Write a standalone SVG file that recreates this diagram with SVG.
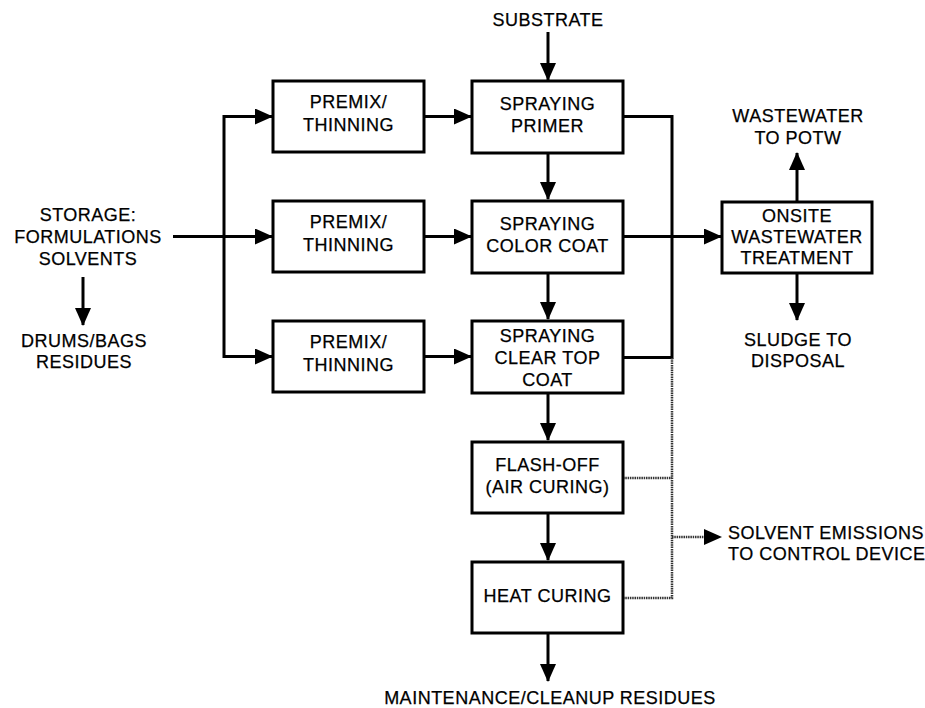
<svg xmlns="http://www.w3.org/2000/svg" width="925" height="708" viewBox="0 0 925 708">
<defs>
<marker id="ah" markerUnits="userSpaceOnUse" markerWidth="18" markerHeight="16" refX="17" refY="8" orient="auto">
<path d="M0,0 L18,8 L0,16 z" fill="#000"/>
</marker>
</defs>
<style>
.box{fill:#fff;stroke:#000;stroke-width:3}
.t{font-family:"Liberation Sans",Arial,sans-serif;font-size:18px;letter-spacing:0.5px;fill:#000;stroke:#000;stroke-width:0.25;text-anchor:middle}
.l{text-anchor:start}
.c{fill:none;stroke:#000;stroke-width:3}
.d{fill:none;stroke:#333;stroke-width:2.5;stroke-dasharray:1.5 0.8}
</style>
<rect width="925" height="708" fill="#fff"/>

<g id="connectors">
<path class="c" d="M173,236.5 H272" marker-end="url(#ah)"/>
<path class="c" d="M272,116.5 H224 V356.5 H272"/>
<path class="c" d="M224,116.5 H272" marker-end="url(#ah)"/>
<path class="c" d="M224,356.5 H272" marker-end="url(#ah)"/>
<path class="c" d="M83,277 V325" marker-end="url(#ah)"/>
<path class="c" d="M424,116.5 H471" marker-end="url(#ah)"/>
<path class="c" d="M424,236.5 H471" marker-end="url(#ah)"/>
<path class="c" d="M424,356.5 H471" marker-end="url(#ah)"/>
<path class="c" d="M548,32 V80" marker-end="url(#ah)"/>
<path class="c" d="M548,153 V199" marker-end="url(#ah)"/>
<path class="c" d="M548,273 V319" marker-end="url(#ah)"/>
<path class="c" d="M548,393 V440" marker-end="url(#ah)"/>
<path class="c" d="M548,513 V560" marker-end="url(#ah)"/>
<path class="c" d="M548,633 V681" marker-end="url(#ah)"/>
<path class="c" d="M623,116.5 H672 V357.5 H623"/>
<path class="c" d="M623,236.5 H721" marker-end="url(#ah)"/>
<path class="c" d="M797,201 V153" marker-end="url(#ah)"/>
<path class="c" d="M797,273 V320" marker-end="url(#ah)"/>
<path class="d" d="M672,358 V598 H623"/>
<path class="d" d="M623,478 H672"/>
<path class="d" d="M672,537 H706"/>
<path d="M704,529 L722,537 L704,545 z" fill="#000"/>
</g>

<g id="storage">
<text class="t" x="88" y="221">STORAGE:</text>
<text class="t" x="88" y="243">FORMULATIONS</text>
<text class="t" x="88" y="265">SOLVENTS</text>
</g>
<g id="drums">
<text class="t" x="84" y="347">DRUMS/BAGS</text>
<text class="t" x="84" y="368">RESIDUES</text>
</g>

<g id="premix1">
<rect class="box" x="273" y="81" width="151" height="71"/>
<text class="t" x="348.5" y="108">PREMIX/</text>
<text class="t" x="348.5" y="131">THINNING</text>
</g>
<g id="premix2">
<rect class="box" x="273" y="201" width="151" height="71"/>
<text class="t" x="348.5" y="228">PREMIX/</text>
<text class="t" x="348.5" y="251">THINNING</text>
</g>
<g id="premix3">
<rect class="box" x="273" y="321" width="151" height="71"/>
<text class="t" x="348.5" y="348">PREMIX/</text>
<text class="t" x="348.5" y="371">THINNING</text>
</g>

<g id="substrate">
<text class="t" x="548" y="26">SUBSTRATE</text>
</g>
<g id="primer">
<rect class="box" x="472" y="81" width="151" height="72"/>
<text class="t" x="547.5" y="110">SPRAYING</text>
<text class="t" x="547.5" y="132">PRIMER</text>
</g>
<g id="colorcoat">
<rect class="box" x="472" y="201" width="151" height="72"/>
<text class="t" x="547.5" y="230">SPRAYING</text>
<text class="t" x="547.5" y="252">COLOR COAT</text>
</g>
<g id="cleartopcoat">
<rect class="box" x="472" y="321" width="151" height="72"/>
<text class="t" x="547.5" y="342">SPRAYING</text>
<text class="t" x="547.5" y="364">CLEAR TOP</text>
<text class="t" x="547.5" y="386">COAT</text>
</g>
<g id="flashoff">
<rect class="box" x="472" y="442" width="151" height="71"/>
<text class="t" x="547.5" y="471">FLASH-OFF</text>
<text class="t" x="547.5" y="493">(AIR CURING)</text>
</g>
<g id="heatcuring">
<rect class="box" x="472" y="562" width="151" height="71"/>
<text class="t" x="547.5" y="602">HEAT CURING</text>
</g>
<g id="maintenance">
<text class="t" x="550" y="704">MAINTENANCE/CLEANUP RESIDUES</text>
</g>

<g id="onsite">
<rect class="box" x="722" y="202" width="150" height="71"/>
<text class="t" x="797" y="222">ONSITE</text>
<text class="t" x="797" y="243">WASTEWATER</text>
<text class="t" x="797" y="264">TREATMENT</text>
</g>
<g id="potw">
<text class="t" x="798" y="122">WASTEWATER</text>
<text class="t" x="798" y="144">TO POTW</text>
</g>
<g id="sludge">
<text class="t" x="798" y="346">SLUDGE TO</text>
<text class="t" x="798" y="367">DISPOSAL</text>
</g>
<g id="solvent">
<text class="t l" x="728" y="539">SOLVENT EMISSIONS</text>
<text class="t l" x="728" y="560">TO CONTROL DEVICE</text>
</g>
</svg>
